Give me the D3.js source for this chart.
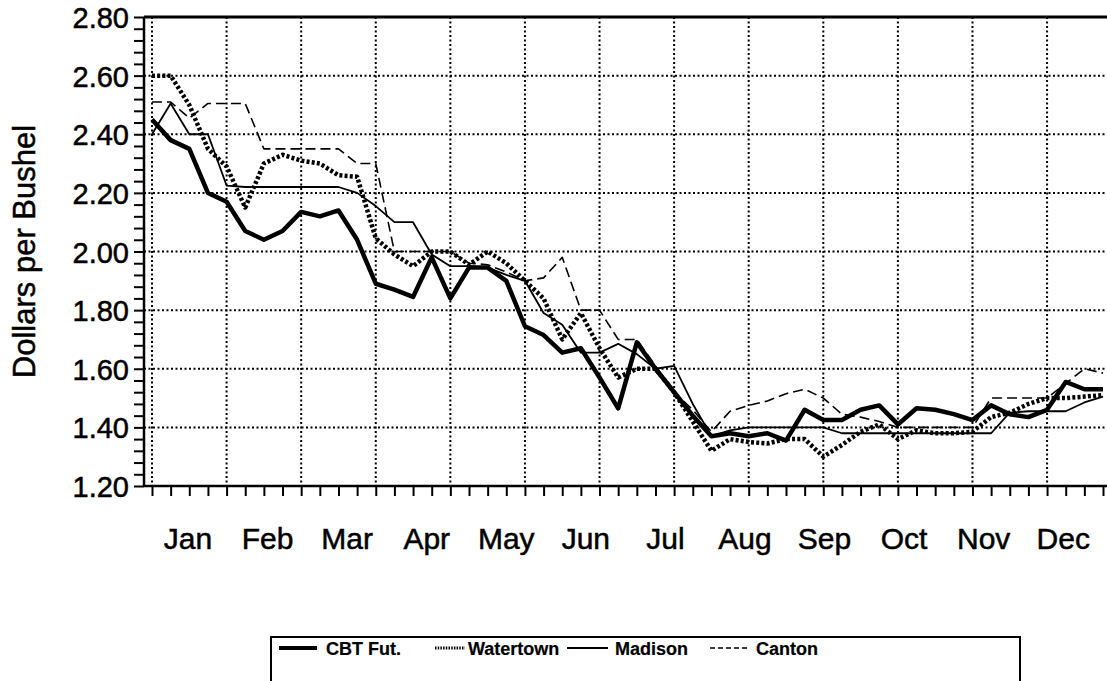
<!DOCTYPE html>
<html>
<head>
<meta charset="utf-8">
<script src="https://cdn.jsdelivr.net/npm/d3@7"></script>
<style>
  body { margin: 0; background: #fff; }
  text { font-family: "Liberation Sans", Arial, Helvetica, sans-serif; fill: #000; stroke: #000; stroke-width: 0.5px; }
</style>
</head>
<body>
<svg id="chart" width="1107" height="681"></svg>
<script>
// weekly prices, dollars per bushel
const months = ["Jan", "Feb", "Mar", "Apr", "May", "Jun", "Jul", "Aug", "Sep", "Oct", "Nov", "Dec"];
const yTicks = [1.20, 1.40, 1.60, 1.80, 2.00, 2.20, 2.40, 2.60, 2.80];

const cbtFut = [2.45, 2.38, 2.35, 2.20, 2.17, 2.07, 2.04, 2.07, 2.135, 2.12, 2.14, 2.04, 1.89,
  1.87, 1.845, 1.98, 1.84, 1.945, 1.945, 1.90, 1.745, 1.715, 1.655, 1.67, 1.57, 1.465,
  1.69, 1.60, 1.52, 1.44, 1.37, 1.38, 1.37, 1.38, 1.355, 1.46, 1.425, 1.425, 1.46,
  1.475, 1.41, 1.465, 1.46, 1.445, 1.425, 1.475, 1.445, 1.435, 1.46, 1.555, 1.53, 1.53];

const watertown = [2.60, 2.60, 2.50, 2.35, 2.29, 2.15, 2.30, 2.33, 2.31, 2.30, 2.26, 2.255, 2.045,
  1.99, 1.95, 2.00, 2.00, 1.955, 2.00, 1.96, 1.90, 1.84, 1.70, 1.79, 1.67, 1.57,
  1.60, 1.60, 1.52, 1.42, 1.32, 1.36, 1.35, 1.345, 1.36, 1.36, 1.30, 1.34, 1.385,
  1.41, 1.36, 1.39, 1.38, 1.38, 1.385, 1.435, 1.45, 1.48, 1.50, 1.50, 1.505, 1.51];

const madison = [2.40, 2.505, 2.40, 2.40, 2.225, 2.22, 2.22, 2.22, 2.22, 2.22, 2.22, 2.20, 2.155,
  2.10, 2.10, 1.99, 1.95, 1.95, 1.945, 1.92, 1.90, 1.79, 1.75, 1.655, 1.655, 1.685,
  1.65, 1.60, 1.61, 1.48, 1.37, 1.39, 1.40, 1.40, 1.40, 1.40, 1.40, 1.38, 1.38,
  1.38, 1.38, 1.38, 1.38, 1.38, 1.38, 1.38, 1.45, 1.455, 1.455, 1.455, 1.485, 1.505];

const canton = [2.51, 2.51, 2.455, 2.505, 2.505, 2.505, 2.35, 2.35, 2.35, 2.35, 2.35, 2.30, 2.30,
  2.00, 2.00, 2.00, 2.00, 1.96, 1.955, 1.93, 1.90, 1.91, 1.98, 1.80, 1.80, 1.70,
  1.70, 1.61, 1.52, 1.46, 1.385, 1.455, 1.475, 1.49, 1.515, 1.53, 1.50, 1.445, 1.435,
  1.42, 1.40, 1.40, 1.40, 1.40, 1.40, 1.50, 1.50, 1.50, 1.50, 1.55, 1.60, 1.585];

const seriesNames = ["CBT Fut.", "Watertown", "Madison", "Canton"];

const weeks = d3.range(cbtFut.length);

const svg = d3.select("#chart");
const left = 144, right = 1107;

const x = d3.scaleLinear().domain([0, weeks.length - 1]).range([152, 1103]);
const y = d3.scaleLinear().domain([1.2, 2.8]).range([486, 17]);
const monthX = d3.scaleLinear().domain([0, 12]).range([x(-0.2), x(51)]);

// dotted grid
const grid = svg.append("g");
grid.selectAll(".hgrid")
  .data(yTicks.filter(v => v > 1.2 && v < 2.8))
  .enter().append("line")
  .attr("x1", left).attr("x2", right)
  .attr("y1", d => y(d)).attr("y2", d => y(d))
  .attr("stroke", "#000").attr("stroke-width", 2).attr("stroke-dasharray", "2,2.5");
grid.selectAll(".vgrid")
  .data(weeks.filter(w => w % 4 === 0))
  .enter().append("line")
  .attr("x1", d => x(d)).attr("x2", d => x(d))
  .attr("y1", y(2.8)).attr("y2", y(1.2))
  .attr("stroke", "#000").attr("stroke-width", 2).attr("stroke-dasharray", "2,2.5");

// series
const styles = [
  { data: cbtFut, width: 4.5, dash: null },
  { data: watertown, width: 4.5, dash: "3,2.2" },
  { data: madison, width: 1.8, dash: null },
  { data: canton, width: 1.6, dash: "10,5" }
];

const line = d3.line().x((d, i) => x(i)).y(d => y(d));

svg.append("g").selectAll("path")
  .data(styles)
  .enter().append("path")
  .attr("d", s => line(s.data))
  .attr("fill", "none")
  .attr("stroke", "#000")
  .attr("stroke-width", s => s.width)
  .attr("stroke-linejoin", "round")
  .attr("stroke-dasharray", s => s.dash);

// axes
const minorTicks = d3.range(0, 41).map(k => 1.2 + k * 0.04);
const yAxis = svg.append("g").attr("transform", `translate(${left},0)`)
  .call(d3.axisLeft(y).tickValues(minorTicks).tickSize(10).tickSizeOuter(0).tickFormat(""));
yAxis.select(".domain").remove();
yAxis.selectAll(".tick line").attr("stroke-width", 2);

svg.append("g").selectAll("text")
  .data(yTicks)
  .enter().append("text")
  .attr("x", 129)
  .attr("y", d => y(d) + 11)
  .attr("text-anchor", "end")
  .style("font-size", "29px")
  .text(d => d3.format(".2f")(d));

const xAxis = svg.append("g").attr("transform", `translate(0,${y(1.2)})`)
  .call(d3.axisBottom(x).tickValues(weeks).tickSize(10).tickSizeOuter(0).tickFormat(""));
xAxis.select(".domain").remove();
xAxis.selectAll(".tick line").attr("stroke-width", 2);

// frame lines
svg.append("line").attr("x1", left).attr("x2", left).attr("y1", y(2.8)).attr("y2", y(1.2))
  .attr("stroke", "#000").attr("stroke-width", 2.5);
svg.append("line").attr("x1", left).attr("x2", right).attr("y1", y(1.2)).attr("y2", y(1.2))
  .attr("stroke", "#000").attr("stroke-width", 2.5);
svg.append("line").attr("x1", left).attr("x2", right).attr("y1", y(2.8)).attr("y2", y(2.8))
  .attr("stroke", "#000").attr("stroke-width", 3);

svg.append("g").selectAll("text")
  .data(months)
  .enter().append("text")
  .attr("x", (d, i) => monthX(i + 0.5))
  .attr("y", 549)
  .attr("text-anchor", "middle")
  .style("font-size", "30px")
  .text(d => d);

svg.append("text")
  .attr("transform", `translate(35,${(y(2.8) + y(1.2)) / 2}) rotate(-90)`)
  .attr("text-anchor", "middle")
  .style("font-size", "31px")
  .text("Dollars per Bushel");

// legend
const legend = svg.append("g");
legend.append("rect")
  .attr("x", 271).attr("y", 637).attr("width", 749).attr("height", 70)
  .attr("fill", "none").attr("stroke", "#000").attr("stroke-width", 2);

const legendX = [279, 435, 567, 710];
const legendLen = [38, 30, 41, 40];
const legendDash = [null, "1.5,1.2", null, "5,3"];
const legendWidth = [4, 3, 1.8, 1.5];

const item = legend.selectAll(".item")
  .data(seriesNames)
  .enter().append("g")
  .attr("transform", (d, i) => `translate(${legendX[i]},648)`);
item.append("line")
  .attr("x1", 0).attr("x2", (d, i) => legendLen[i])
  .attr("stroke", "#000")
  .attr("stroke-width", (d, i) => legendWidth[i])
  .attr("stroke-dasharray", (d, i) => legendDash[i]);
item.append("text")
  .attr("x", (d, i) => legendLen[i] + [9, 3, 7, 6][i])
  .attr("y", 7)
  .style("font-size", "18px")
  .style("font-weight", "bold")
  .style("stroke-width", "0.2px")
  .text(d => d);
</script>
</body>
</html>
